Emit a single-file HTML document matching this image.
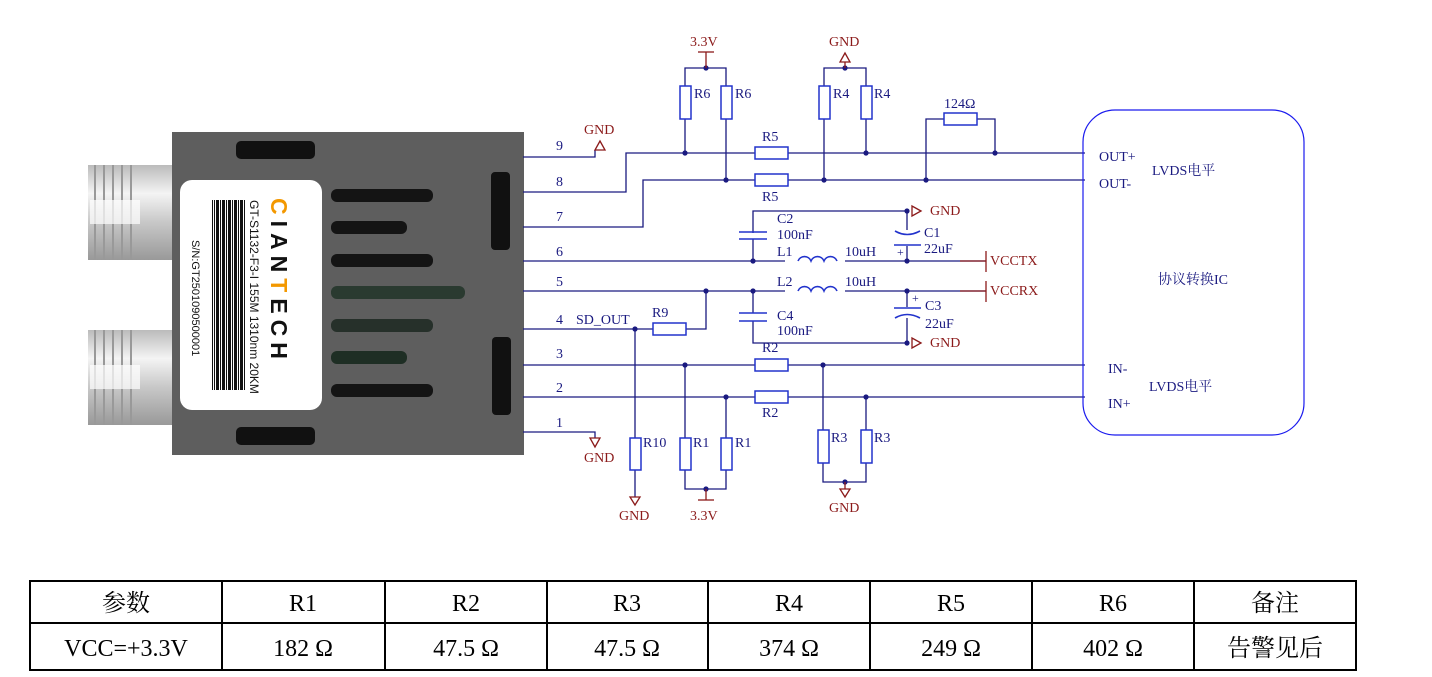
<!DOCTYPE html>
<html><head><meta charset="utf-8"><style>
html,body{margin:0;padding:0;background:#fff;}
svg{display:block}
.t{font-family:"Liberation Serif","Noto Serif CJK SC",serif;font-size:14px;fill:#1a1a80}
.r{font-family:"Liberation Serif",serif;font-size:14px;fill:#8b1a1a}
.tb{font-family:"Liberation Serif","Noto Serif CJK SC",serif;font-size:24px;fill:#000}
</style></head><body>
<svg width="1432" height="677" viewBox="0 0 1432 677" xmlns="http://www.w3.org/2000/svg">
<defs>
<linearGradient id="mt" x1="0" y1="0" x2="0" y2="1">
<stop offset="0" stop-color="#bbb"/><stop offset="0.3" stop-color="#f4f4f4"/><stop offset="0.6" stop-color="#c8c8c8"/><stop offset="1" stop-color="#999"/></linearGradient>
<pattern id="bc" width="6" height="4" patternUnits="userSpaceOnUse"><rect width="3" height="4" fill="#111"/><rect x="4" width="1" height="4" fill="#111"/></pattern>
</defs>
<!-- connectors -->
<g>
<rect x="88" y="165" width="86" height="95" fill="url(#mt)"/>
<rect x="88" y="330" width="86" height="95" fill="url(#mt)"/>
<g stroke="#999" stroke-width="2">
<line x1="95" y1="165" x2="95" y2="260"/><line x1="104" y1="165" x2="104" y2="260"/><line x1="113" y1="165" x2="113" y2="260"/><line x1="122" y1="165" x2="122" y2="260"/><line x1="131" y1="165" x2="131" y2="260"/>
<line x1="95" y1="330" x2="95" y2="425"/><line x1="104" y1="330" x2="104" y2="425"/><line x1="113" y1="330" x2="113" y2="425"/><line x1="122" y1="330" x2="122" y2="425"/><line x1="131" y1="330" x2="131" y2="425"/>
</g>
<rect x="90" y="200" width="50" height="24" fill="#fff" opacity="0.7"/>
<rect x="90" y="365" width="50" height="24" fill="#fff" opacity="0.7"/>
</g>
<!-- module body -->
<rect x="172" y="132" width="352" height="323" fill="#5e5e5e"/>
<rect x="236" y="141" width="79" height="18" rx="5" fill="#111"/>
<rect x="236" y="427" width="79" height="18" rx="5" fill="#111"/>
<rect x="491" y="172" width="19" height="78" rx="4" fill="#111"/>
<rect x="492" y="337" width="19" height="78" rx="4" fill="#111"/>
<g fill="#141414">
<rect x="331" y="189" width="102" height="13" rx="6"/>
<rect x="331" y="221" width="76" height="13" rx="6"/>
<rect x="331" y="254" width="102" height="13" rx="6"/>
<rect x="331" y="286" width="134" height="13" rx="6" fill="#2a3a30"/>
<rect x="331" y="319" width="102" height="13" rx="6" fill="#26302a"/>
<rect x="331" y="351" width="76" height="13" rx="6" fill="#1e2e24"/>
<rect x="331" y="384" width="102" height="13" rx="6"/>
</g>
<rect x="180" y="180" width="142" height="230" rx="12" fill="#fff"/>
<rect x="212" y="200" width="33" height="190" fill="url(#bc)"/>
<text style="fill:#111;font-family:'Liberation Sans',sans-serif;font-size:12px" transform="translate(250,200) rotate(90)">GT-S1132-F3-I  155M 1310nm 20KM</text>
<text style="fill:#111;font-family:'Liberation Sans',sans-serif;font-size:11px" transform="translate(192,240) rotate(90)">S/N:GT2501090500001</text>
<text style="fill:#111;font-family:'Liberation Sans',sans-serif;font-size:23px;font-weight:bold;letter-spacing:6px" transform="translate(271,198) rotate(90)"><tspan fill="#f39800">C</tspan>IAN<tspan fill="#f39800">T</tspan>ECH</text>
<!-- wires -->
<g stroke="#1a1a80" stroke-width="1.3" fill="none">
<polyline points="523,157 595,157 595,150"/>
<polyline points="523,192 626,192 626,153 1085,153"/>
<polyline points="523,227 643,227 643,180 1085,180"/>
<line x1="523" y1="261" x2="986" y2="261"/>
<line x1="523" y1="291" x2="986" y2="291"/>
<polyline points="523,329 706,329 706,291"/>
<line x1="523" y1="365" x2="1085" y2="365"/>
<line x1="523" y1="397" x2="1085" y2="397"/>
<polyline points="523,432 595,432 595,438"/>
<polyline points="685,153 685,68 726,68 726,180"/>
<polyline points="824,180 824,68 866,68 866,153"/>
<polyline points="926,180 926,119 995,119 995,153"/>
<polyline points="753,261 753,211 907,211 907,261"/>
<polyline points="753,291 753,343 907,343 907,291"/>
<line x1="635" y1="329" x2="635" y2="500"/>
<polyline points="685,365 685,489 726,489 726,397"/>
<polyline points="823,365 823,482 866,482 866,397"/>
</g>
<!-- resistors -->
<g fill="#fff" stroke="#2233cc" stroke-width="1.5">
<rect x="680" y="86" width="11" height="33"/><rect x="721" y="86" width="11" height="33"/>
<rect x="819" y="86" width="11" height="33"/><rect x="861" y="86" width="11" height="33"/>
<rect x="944" y="113" width="33" height="12"/>
<rect x="755" y="147" width="33" height="12"/><rect x="755" y="174" width="33" height="12"/>
<rect x="653" y="323" width="33" height="12"/>
<rect x="755" y="359" width="33" height="12"/><rect x="755" y="391" width="33" height="12"/>
<rect x="630" y="438" width="11" height="32"/>
<rect x="680" y="438" width="11" height="32"/><rect x="721" y="438" width="11" height="32"/>
<rect x="818" y="430" width="11" height="33"/><rect x="861" y="430" width="11" height="33"/>
</g>
<!-- caps & inductors -->
<g stroke="#2233cc" stroke-width="1.6" fill="#fff">
<rect x="785" y="254" width="60" height="14" stroke="none"/>
<rect x="785" y="284" width="60" height="14" stroke="none"/>
<rect x="738" y="233" width="30" height="6" stroke="none"/>
<rect x="738" y="313" width="30" height="8" stroke="none"/>
<rect x="890" y="230" width="34" height="16" stroke="none"/>
<rect x="890" y="307" width="34" height="11" stroke="none"/>
<line x1="739" y1="232" x2="767" y2="232"/><line x1="739" y1="239" x2="767" y2="239"/>
<line x1="739" y1="313" x2="767" y2="313"/><line x1="739" y1="321" x2="767" y2="321"/>
<path d="M798,261 a7,7 0 0 1 13,0 a7,7 0 0 1 13,0 a7,7 0 0 1 13,0" fill="none"/>
<path d="M798,291 a7,7 0 0 1 13,0 a7,7 0 0 1 13,0 a7,7 0 0 1 13,0" fill="none"/>
<path d="M895,231 Q907,238 920,231" fill="none"/><line x1="894" y1="245" x2="921" y2="245"/>
<line x1="894" y1="308" x2="921" y2="308"/><path d="M895,318 Q907,311 920,318" fill="none"/>
</g>
<!-- dots -->
<g fill="#1a1a80">
<circle cx="685" cy="153" r="2.6"/><circle cx="866" cy="153" r="2.6"/><circle cx="995" cy="153" r="2.6"/>
<circle cx="726" cy="180" r="2.6"/><circle cx="824" cy="180" r="2.6"/><circle cx="926" cy="180" r="2.6"/>
<circle cx="706" cy="68" r="2.6"/><circle cx="845" cy="68" r="2.6"/>
<circle cx="907" cy="211" r="2.6"/><circle cx="753" cy="261" r="2.6"/><circle cx="907" cy="261" r="2.6"/>
<circle cx="706" cy="291" r="2.6"/><circle cx="753" cy="291" r="2.6"/><circle cx="907" cy="291" r="2.6"/><circle cx="907" cy="343" r="2.6"/>
<circle cx="635" cy="329" r="2.6"/><circle cx="685" cy="365" r="2.6"/><circle cx="823" cy="365" r="2.6"/>
<circle cx="726" cy="397" r="2.6"/><circle cx="866" cy="397" r="2.6"/>
<circle cx="706" cy="489" r="2.6"/><circle cx="845" cy="482" r="2.6"/>
</g>
<!-- power symbols -->
<g stroke="#8b1a1a" stroke-width="1.3" fill="#fff">
<line x1="706" y1="68" x2="706" y2="52"/><line x1="698" y1="52" x2="714" y2="52"/>
<line x1="845" y1="68" x2="845" y2="62"/><polygon points="845,53 840,62 850,62"/>
<polygon points="600,141 595,150 605,150"/>
<polygon points="595,447 590,438 600,438"/>
<polygon points="635,505 630,497 640,497"/>
<line x1="706" y1="489" x2="706" y2="500"/><line x1="698" y1="500" x2="714" y2="500"/>
<line x1="845" y1="482" x2="845" y2="489"/><polygon points="845,497 840,489 850,489"/>
<polygon points="921,211 912,206 912,216"/><polygon points="921,343 912,338 912,348"/>
<line x1="960" y1="261" x2="986" y2="261"/><line x1="986" y1="251" x2="986" y2="272"/>
<line x1="960" y1="291" x2="986" y2="291"/><line x1="986" y1="281" x2="986" y2="302"/>
</g>
<!-- IC box -->
<rect x="1083" y="110" width="221" height="325" rx="32" fill="none" stroke="#1a1aee" stroke-width="1.2"/>
<!-- labels -->
<g class="t">
<text x="556" y="150">9</text><text x="556" y="186">8</text><text x="556" y="221">7</text><text x="556" y="256">6</text><text x="556" y="286">5</text><text x="556" y="324">4</text><text x="556" y="358">3</text><text x="556" y="392">2</text><text x="556" y="427">1</text>
<text x="576" y="324">SD_OUT</text>
<text x="694" y="98">R6</text><text x="735" y="98">R6</text><text x="833" y="98">R4</text><text x="874" y="98">R4</text>
<text x="944" y="108">124Ω</text>
<text x="762" y="141">R5</text><text x="762" y="201">R5</text>
<text x="777" y="223">C2</text><text x="777" y="239">100nF</text><text x="777" y="256">L1</text><text x="845" y="256">10uH</text>
<text x="924" y="237">C1</text><text x="924" y="253">22uF</text><text x="897" y="256" style="font-size:12px">+</text>
<text x="777" y="286">L2</text><text x="845" y="286">10uH</text>
<text x="912" y="302" style="font-size:12px">+</text><text x="925" y="310">C3</text><text x="925" y="328">22uF</text>
<text x="777" y="320">C4</text><text x="777" y="335">100nF</text>
<text x="652" y="317">R9</text>
<text x="762" y="352">R2</text><text x="762" y="417">R2</text>
<text x="643" y="447">R10</text><text x="693" y="447">R1</text><text x="735" y="447">R1</text>
<text x="831" y="442">R3</text><text x="874" y="442">R3</text>
<text x="1099" y="161">OUT+</text><text x="1099" y="188">OUT-</text><text x="1152" y="175">LVDS电平</text>
<text x="1158" y="284">协议转换IC</text>
<text x="1108" y="373">IN-</text><text x="1108" y="408">IN+</text><text x="1149" y="391">LVDS电平</text>
</g>
<g class="r">
<text x="690" y="46">3.3V</text><text x="829" y="46">GND</text><text x="584" y="134">GND</text>
<text x="930" y="215">GND</text><text x="930" y="347">GND</text>
<text x="990" y="265">VCCTX</text><text x="990" y="295">VCCRX</text>
<text x="584" y="462">GND</text><text x="619" y="520">GND</text><text x="690" y="520">3.3V</text><text x="829" y="512">GND</text>
</g>
<!-- table -->
<g stroke="#000" stroke-width="2" fill="none">
<rect x="30" y="581" width="1326" height="89"/>
<line x1="30" y1="623" x2="1356" y2="623"/>
<line x1="222" y1="581" x2="222" y2="670"/><line x1="385" y1="581" x2="385" y2="670"/><line x1="547" y1="581" x2="547" y2="670"/><line x1="708" y1="581" x2="708" y2="670"/><line x1="870" y1="581" x2="870" y2="670"/><line x1="1032" y1="581" x2="1032" y2="670"/><line x1="1194" y1="581" x2="1194" y2="670"/>
</g>
<g class="tb" text-anchor="middle">
<text x="126" y="611">参数</text><text x="303" y="611">R1</text><text x="466" y="611">R2</text><text x="627" y="611">R3</text><text x="789" y="611">R4</text><text x="951" y="611">R5</text><text x="1113" y="611">R6</text><text x="1275" y="611">备注</text>
<text x="126" y="656">VCC=+3.3V</text><text x="303" y="656">182 Ω</text><text x="466" y="656">47.5 Ω</text><text x="627" y="656">47.5 Ω</text><text x="789" y="656">374 Ω</text><text x="951" y="656">249 Ω</text><text x="1113" y="656">402 Ω</text><text x="1275" y="656">告警见后</text>
</g>
</svg>
</body></html>
